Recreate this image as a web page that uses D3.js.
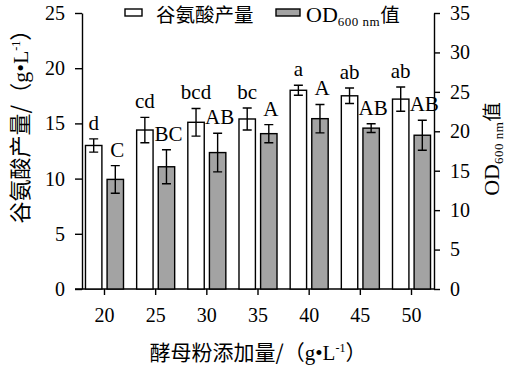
<!doctype html>
<html>
<head>
<meta charset="utf-8">
<script src="https://d3js.org/d3.v7.min.js"></script>
<style>
  body { margin: 0; background: #fff; }
</style>
</head>
<body>
<svg width="512" height="366"></svg>
<script>
// data
var doses = ["20", "25", "30", "35", "40", "45", "50"];
var gluMean = [13.0, 14.4, 15.1, 15.4, 18.0, 17.5, 17.2];
var gluErr = [0.6, 1.15, 1.25, 1.0, 0.45, 0.7, 1.1];
var odMean = [13.9, 15.5, 17.3, 19.7, 21.6, 20.4, 19.5];
var odErr = [1.75, 2.15, 2.45, 1.15, 1.8, 0.55, 1.9];
var gluLetters = ["d", "cd", "bcd", "bc", "a", "ab", "ab"];
var odLetters = ["C", "BC", "AB", "A", "A", "AB", "AB"];
var leftTicks = [0, 5, 10, 15, 20, 25];
var rightTicks = [0, 5, 10, 15, 20, 25, 30, 35];

var SERIF = "'Liberation Serif', 'Times New Roman', serif";
var CJK = "'Noto Sans CJK SC', sans-serif";

var svg = d3.select("svg"),
    margin = {top: 13, right: 78, bottom: 77, left: 82},
    width = 512 - margin.left - margin.right,
    height = 366 - margin.top - margin.bottom;

var g = svg.append("g").attr("transform", "translate(" + margin.left + "," + margin.top + ")");

var x = d3.scaleBand().domain(doses).range([0, width]).paddingInner(0.257).paddingOuter(0.068);
var xs = d3.scaleBand().domain(["glu", "od"]).range([0, x.bandwidth()]).paddingInner(0.24);
var yL = d3.scaleLinear().domain([0, 25]).range([height, 0]);
var yR = d3.scaleLinear().domain([0, 35]).range([height, 0]);

var rows = doses.map(function(d, i) {
  return {dose: d, glu: gluMean[i], gluE: gluErr[i], od: odMean[i], odE: odErr[i],
          gl: gluLetters[i], ol: odLetters[i]};
});

// axes
var axL = g.append("g").call(d3.axisLeft(yL).tickValues(leftTicks).tickSizeInner(7).tickSizeOuter(0).tickPadding(10));
var axR = g.append("g").attr("transform", "translate(" + width + ",0)")
  .call(d3.axisRight(yR).tickValues(rightTicks).tickSizeInner(6).tickSizeOuter(0).tickPadding(10));
var axB = g.append("g").attr("transform", "translate(0," + height + ")")
  .call(d3.axisBottom(x).tickSizeInner(6).tickSizeOuter(0).tickPadding(13));
[axL, axR, axB].forEach(function(a) {
  a.attr("font-family", SERIF).attr("font-size", 20);
  a.selectAll("text").style("font-family", SERIF).style("font-size", "20px").attr("fill", "#000");
  a.selectAll("path, line").attr("stroke", "#000").attr("stroke-width", 1.4);
});
axB.select(".domain").attr("d", "M-7,0H" + width);

// bars
var grp = g.selectAll(".grp").data(rows).enter().append("g")
  .attr("transform", function(d) { return "translate(" + x(d.dose) + ",0)"; });

grp.append("rect")
  .attr("x", xs("glu")).attr("width", xs.bandwidth())
  .attr("y", function(d) { return yL(d.glu); })
  .attr("height", function(d) { return height - yL(d.glu); })
  .attr("fill", "#fff").attr("stroke", "#000").attr("stroke-width", 1.4);

grp.append("rect")
  .attr("x", xs("od")).attr("width", xs.bandwidth())
  .attr("y", function(d) { return yR(d.od); })
  .attr("height", function(d) { return height - yR(d.od); })
  .attr("fill", "#a3a3a3").attr("stroke", "#000").attr("stroke-width", 1.4);

// error bars
function errBar(sel, key, scale, mean, err) {
  var cx = xs(key) + xs.bandwidth() / 2, cap = 4.5;
  sel.append("path")
    .attr("d", function(d) {
      var t = scale(d[mean] + d[err]), b = scale(d[mean] - d[err]);
      return "M" + cx + "," + t + "V" + b +
             "M" + (cx - cap) + "," + t + "H" + (cx + cap) +
             "M" + (cx - cap) + "," + b + "H" + (cx + cap);
    })
    .attr("fill", "none").attr("stroke", "#000").attr("stroke-width", 1.4);
}
errBar(grp, "glu", yL, "glu", "gluE");
errBar(grp, "od", yR, "od", "odE");

// significance letters
grp.append("text")
  .attr("x", xs("glu") + xs.bandwidth() / 2)
  .attr("y", function(d) { return yL(d.glu + d.gluE) - 9; })
  .attr("text-anchor", "middle")
  .style("font-family", SERIF).style("font-size", "21px")
  .text(function(d) { return d.gl; });
grp.append("text")
  .attr("x", xs("od") + xs.bandwidth() / 2 + 2)
  .attr("y", function(d) { return yR(d.od + d.odE) - 9; })
  .attr("text-anchor", "middle")
  .style("font-family", SERIF).style("font-size", "21px")
  .text(function(d) { return d.ol; });

// legend
var leg = svg.append("g");
leg.append("rect").attr("x", 125).attr("y", 9).attr("width", 17).attr("height", 7)
  .attr("fill", "#fff").attr("stroke", "#000").attr("stroke-width", 1.4);
leg.append("text").attr("x", 156).attr("y", 22)
  .style("font-family", CJK).style("font-size", "19.5px").text("谷氨酸产量");
leg.append("rect").attr("x", 276).attr("y", 9).attr("width", 24).attr("height", 7)
  .attr("fill", "#a3a3a3").attr("stroke", "#000").attr("stroke-width", 1.4);

function odLabel(sel) {
  sel.style("font-family", SERIF).style("font-size", "22px");
  sel.append("tspan").text("OD");
  sel.append("tspan").attr("dy", 4).style("font-size", "13px").style("letter-spacing", "0.5px").text("600 nm");
  sel.append("tspan").attr("dy", -4).style("font-family", CJK).style("font-size", "19.5px").text("值");
}
odLabel(leg.append("text").attr("x", 306).attr("y", 22));

// axis titles
function unitLabel(sel, name, size) {
  sel.style("font-family", SERIF).style("font-size", size + "px");
  sel.append("tspan").style("font-family", CJK).text(name + "/（");
  sel.append("tspan").text("g•L");
  sel.append("tspan").attr("dy", -8).style("font-size", "12px").text("-1");
  sel.append("tspan").attr("dy", 8).style("font-family", CJK).text("）");
}
unitLabel(svg.append("text")
  .attr("transform", "translate(28,121) rotate(-90)")
  .attr("text-anchor", "middle"), "谷氨酸产量", 22);

odLabel(svg.append("text")
  .attr("transform", "translate(499,149) rotate(-90)")
  .attr("text-anchor", "middle"));

unitLabel(svg.append("text")
  .attr("x", 258).attr("y", 360)
  .attr("text-anchor", "middle"), "酵母粉添加量", 21);
</script>
</body>
</html>
